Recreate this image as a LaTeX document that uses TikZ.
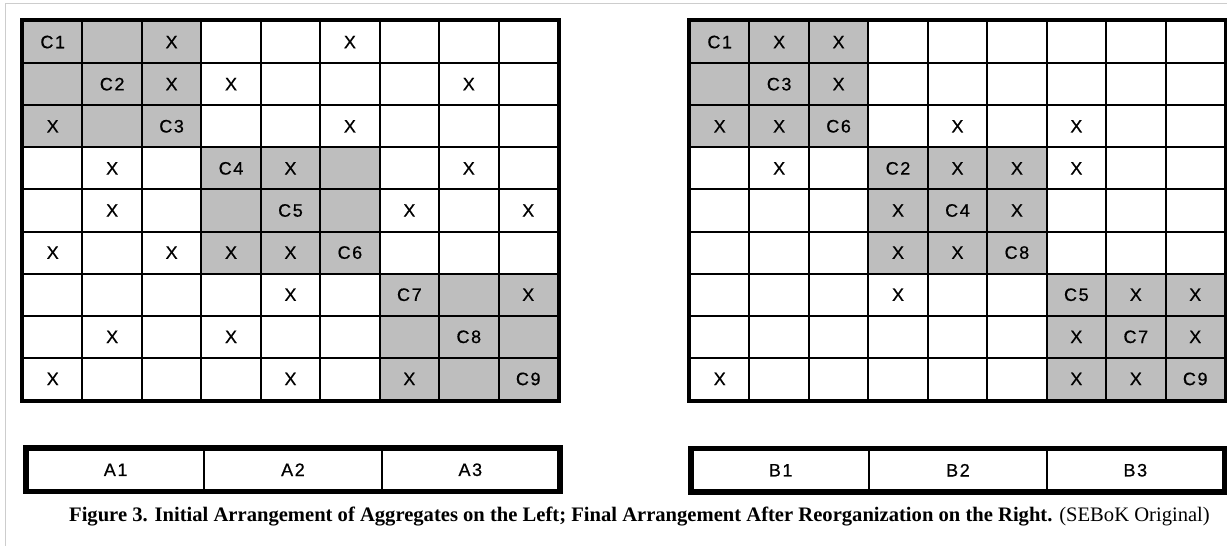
\documentclass[tikz,border=0pt]{standalone}
\usepackage{fontspec}
\setmainfont{Liberation Serif}
\newfontfamily\cellfont[LetterSpace=9,FakeBold=0.6]{Liberation Sans}
\definecolor{cellgray}{RGB}{190,190,190}
\definecolor{framegray}{RGB}{205,205,205}
\tikzset{
  cellbox/.style={draw=black, line width=2pt, minimum width=59.44pt, minimum height=42.11pt, inner sep=0pt},
  celltext/.style={font=\cellfont\fontsize{18}{21}\selectfont, inner sep=0pt},
  gridborder/.style={draw=black, line width=4pt},
  barseg/.style={draw=black, line width=2pt, minimum width=177.33pt, minimum height=41.5pt, inner sep=0pt, font=\cellfont\fontsize{18}{21}\selectfont},
  barborder/.style={draw=black, line width=5.5pt},
  caption/.style={font=\fontsize{20.6}{24}\selectfont, inner sep=0pt}
}
\begin{document}
\begin{tikzpicture}[x=1pt,y=-1pt]
\useasboundingbox (0,0) rectangle (1227,546);
\fill[white] (0,0) rectangle (1227,546);
\draw[framegray, line width=1pt] (5,546) -- (5,3) -- (1227,3);
% grids
\foreach \G/\xo in {L/23, R/690} {
  \foreach \r in {1,...,9} {
    \foreach \c in {1,...,9} {
      \pgfmathtruncatemacro\br{int((\r-1)/3)}
      \pgfmathtruncatemacro\bc{int((\c-1)/3)}
      \ifnum\br=\bc
        \node[cellbox, fill=cellgray] (\G-\r-\c) at ({\xo+(\c-0.5)*59.44},{21+(\r-0.5)*42.11}) {};
      \else
        \node[cellbox, fill=white] (\G-\r-\c) at ({\xo+(\c-0.5)*59.44},{21+(\r-0.5)*42.11}) {};
      \fi
    }
  }
  \draw[gridborder] (\G-1-1.north west) rectangle (\G-9-9.south east);
}
% left grid texts
\foreach \r/\c/\t in {1/1/C1,1/3/X,1/6/X,
  2/2/C2,2/3/X,2/4/X,2/8/X,
  3/1/X,3/3/C3,3/6/X,
  4/2/X,4/4/C4,4/5/X,4/8/X,
  5/2/X,5/5/C5,5/7/X,5/9/X,
  6/1/X,6/3/X,6/4/X,6/5/X,6/6/C6,
  7/5/X,7/7/C7,7/9/X,
  8/2/X,8/4/X,8/8/C8,
  9/1/X,9/5/X,9/7/X,9/9/C9}
  \node[celltext] (Lt-\r-\c) at (L-\r-\c) {\t};
% right grid texts
\foreach \r/\c/\t in {1/1/C1,1/2/X,1/3/X,
  2/2/C3,2/3/X,
  3/1/X,3/2/X,3/3/C6,3/5/X,3/7/X,
  4/2/X,4/4/C2,4/5/X,4/6/X,4/7/X,
  5/4/X,5/5/C4,5/6/X,
  6/4/X,6/5/X,6/6/C8,
  7/4/X,7/7/C5,7/8/X,7/9/X,
  8/7/X,8/8/C7,8/9/X,
  9/1/X,9/7/X,9/8/X,9/9/C9}
  \node[celltext] (Rt-\r-\c) at (R-\r-\c) {\t};
% bars
\foreach \n [count=\i] in {A1,A2,A3}
  \node[barseg] (\n) at ({27+(\i-0.5)*177.33},469.75) {\n};
\draw[barborder] (A1.north west) rectangle (A3.south east);
\foreach \n [count=\i] in {B1,B2,B3}
  \node[barseg] (\n) at ({692+(\i-0.5)*177.33},470.25) {\n};
\draw[barborder] (B1.north west) rectangle (B3.south east);
% caption
\node[caption] (cap) at (639.5,517) {\textbf{Figure 3. Initial Arrangement of Aggregates on the Left; Final Arrangement After Reorganization on the Right.} (SEBoK Original)};
\end{tikzpicture}
\end{document}
